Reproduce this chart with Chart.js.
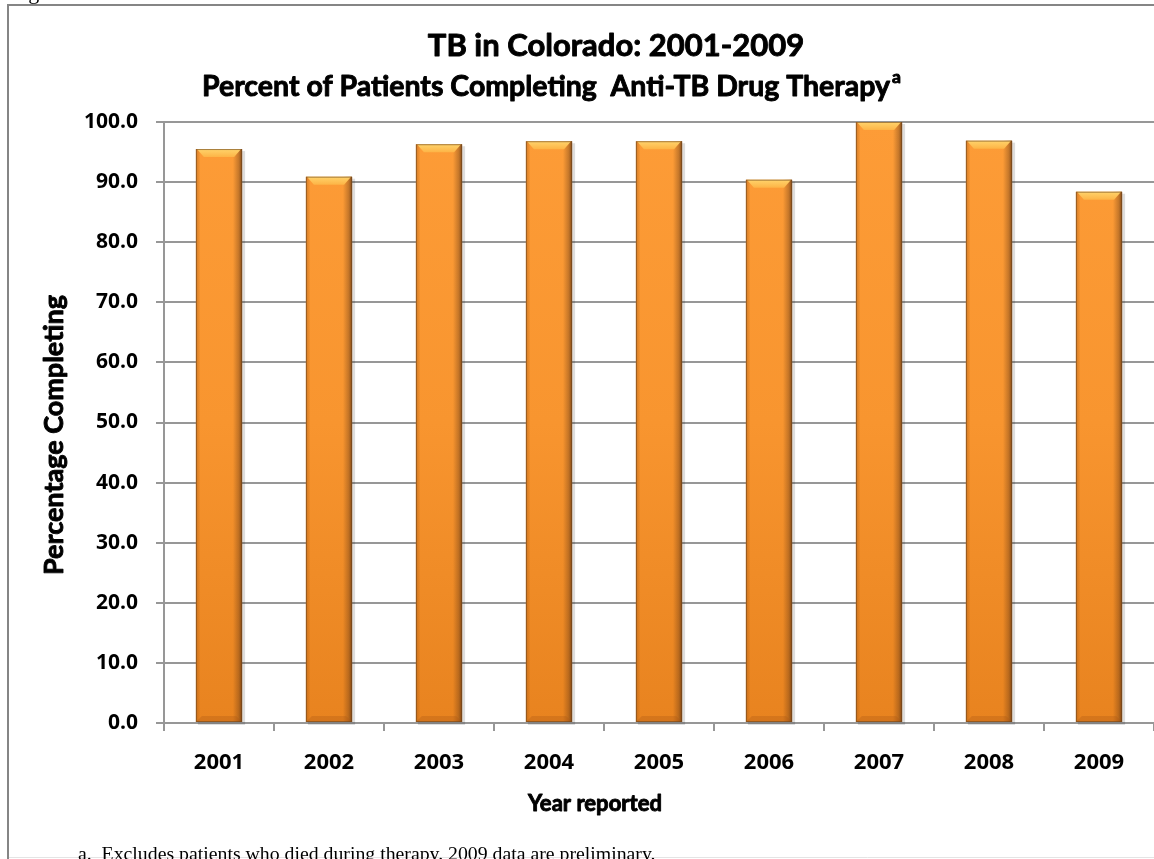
<!DOCTYPE html>
<html>
<head>
<meta charset="utf-8">
<title>TB in Colorado: 2001-2009</title>
<script src="https://cdn.jsdelivr.net/npm/chart.js@4"></script>
<style>
    html, body { margin: 0; padding: 0; background: #fff; overflow: hidden; }
    canvas { display: block; }
</style>
</head>
<body>
<canvas id="tb-chart" width="1154" height="859"></canvas>
<script>
// Data
const years = ['2001', '2002', '2003', '2004', '2005', '2006', '2007', '2008', '2009'];
const percentCompleting = [95.5, 90.9, 96.3, 96.8, 96.8, 90.4, 100.0, 96.9, 88.4];
const yTicks = [0, 10, 20, 30, 40, 50, 60, 70, 80, 90, 100];

const titleLine1 = 'TB in Colorado: 2001-2009';
const titleLine2 = 'Percent of Patients Completing  Anti-TB Drug Therapy';
const titleSup = 'a';
const yTitle = 'Percentage Completing';
const xTitle = 'Year reported';
const footnote = 'a.  Excludes patients who died during therapy. 2009 data are preliminary.';

const SANS = '"Open Sans", Lato, sans-serif';
const TITLE_SANS = 'Lato, "Open Sans", sans-serif';
const SERIF = '"Liberation Serif", "DejaVu Serif", serif';
const GRID = '#979797';

// shrink a font so a text fits the width it has in the reference
function fitFont(ctx, text, weight, size, family, maxWidth) {
    ctx.font = `${weight} ${size}px ${family}`;
    const w = ctx.measureText(text).width;
    if (w > maxWidth) {
        size = size * maxWidth / w;
        ctx.font = `${weight} ${size}px ${family}`;
    }
    return size;
}

// Lato bold is a little light next to the reference, so thicken it a bit
function heavyText(ctx, text, x, y) {
    ctx.lineWidth = 0.9;
    ctx.strokeStyle = '#000';
    ctx.lineJoin = 'round';
    ctx.strokeText(text, x, y);
    ctx.fillText(text, x, y);
}

const frameAndText = {
    id: 'frameAndText',
    beforeDraw(chart) {
        const ctx = chart.ctx;
        ctx.save();
        ctx.fillStyle = '#fff';
        ctx.fillRect(0, 0, chart.width, chart.height);

        // cut-off figure caption above the frame
        ctx.fillStyle = '#000';
        ctx.font = `22px ${SERIF}`;
        ctx.textBaseline = 'alphabetic';
        ctx.fillText('Figure', 10, -1);

        // frame
        ctx.strokeStyle = '#858585';
        ctx.lineWidth = 2;
        ctx.beginPath();
        ctx.moveTo(8, chart.height);
        ctx.lineTo(8, 5);
        ctx.lineTo(chart.width, 5);
        ctx.stroke();
        ctx.strokeStyle = '#e4e4e4';
        ctx.lineWidth = 1;
        ctx.beginPath();
        ctx.moveTo(9, 857.5);
        ctx.lineTo(chart.width, 857.5);
        ctx.stroke();
        ctx.restore();
    },
    afterDraw(chart) {
        const ctx = chart.ctx;
        ctx.save();
        ctx.fillStyle = '#000';
        ctx.textBaseline = 'alphabetic';

        // titles
        ctx.textAlign = 'center';
        fitFont(ctx, titleLine1, 'bold', 31, TITLE_SANS, 396);
        heavyText(ctx, titleLine1, 616, 56);

        ctx.textAlign = 'left';
        const s2 = fitFont(ctx, titleLine2, 'bold', 31, TITLE_SANS, 688);
        heavyText(ctx, titleLine2, 202, 96);
        const w2 = ctx.measureText(titleLine2).width;
        ctx.font = `bold ${s2 * 0.62}px ${TITLE_SANS}`;
        heavyText(ctx, titleSup, 202 + w2 + 2, 83);

        // x axis title
        ctx.textAlign = 'center';
        fitFont(ctx, xTitle, 'bold', 23, TITLE_SANS, 134);
        heavyText(ctx, xTitle, 595, 811);

        // y axis title
        ctx.save();
        ctx.translate(63, 435);
        ctx.rotate(-Math.PI / 2);
        fitFont(ctx, yTitle, 'bold', 27, TITLE_SANS, 315);
        heavyText(ctx, yTitle, 0, 0);
        ctx.restore();

        // footnote
        ctx.textAlign = 'left';
        fitFont(ctx, footnote, 'normal', 21, SERIF, 578);
        ctx.fillText(footnote, 78, 860);
        ctx.restore();
    }
};

// bevel and edge shading on each bar, placed from the bar elements
const barBevel = {
    id: 'barBevel',
    beforeDatasetsDraw(chart) {
        const ctx = chart.ctx;
        ctx.save();
        chart.getDatasetMeta(0).data.forEach(bar => {
            const { x, y, base, width } = bar.getProps(['x', 'y', 'base', 'width'], true);
            ctx.fillStyle = 'rgba(0, 0, 0, 0.13)';
            ctx.fillRect(x - width / 2 + 2, y + 2, width + 1, base - y + 1);
        });
        ctx.restore();
    },
    afterDatasetsDraw(chart) {
        const ctx = chart.ctx;
        ctx.save();
        chart.getDatasetMeta(0).data.forEach(bar => {
            const { x, y, base, width } = bar.getProps(['x', 'y', 'base', 'width'], true);
            const l = x - width / 2;
            const r = x + width / 2;

            const side = ctx.createLinearGradient(l, 0, r, 0);
            side.addColorStop(0, 'rgba(160, 85, 20, 0.45)');
            side.addColorStop(0.1, 'rgba(160, 85, 20, 0)');
            side.addColorStop(0.8, 'rgba(90, 50, 20, 0)');
            side.addColorStop(0.93, 'rgba(90, 50, 20, 0.35)');
            side.addColorStop(1, 'rgba(90, 50, 20, 0.75)');
            ctx.fillStyle = side;
            ctx.fillRect(l, y, width, base - y);

            const top = ctx.createLinearGradient(0, y, 0, y + 8);
            top.addColorStop(0, '#ffd46c');
            top.addColorStop(1, '#fdb446');
            ctx.fillStyle = top;
            ctx.beginPath();
            ctx.moveTo(l + 1, y);
            ctx.lineTo(r - 1, y);
            ctx.lineTo(r - 8, y + 8);
            ctx.lineTo(l + 8, y + 8);
            ctx.closePath();
            ctx.fill();

            ctx.fillStyle = 'rgba(170, 85, 20, 0.3)';
            ctx.beginPath();
            ctx.moveTo(l, base);
            ctx.lineTo(r, base);
            ctx.lineTo(r - 6, base - 6);
            ctx.lineTo(l + 6, base - 6);
            ctx.closePath();
            ctx.fill();

            ctx.strokeStyle = 'rgba(110, 70, 30, 0.6)';
            ctx.lineWidth = 1;
            ctx.strokeRect(l + 0.5, y + 0.5, width - 1, base - y - 1);
        });
        ctx.restore();
    }
};

function barFill(c) {
    const { ctx, chartArea } = c.chart;
    if (!chartArea) return '#f7932f';
    const g = ctx.createLinearGradient(0, chartArea.top, 0, chartArea.bottom);
    g.addColorStop(0, '#fd9c37');
    g.addColorStop(0.5, '#f8952f');
    g.addColorStop(1, '#e8831f');
    return g;
}

new Chart(document.getElementById('tb-chart'), {
    type: 'bar',
    data: {
        labels: years,
        datasets: [{
            label: 'Percent completing',
            data: percentCompleting,
            backgroundColor: barFill,
            borderWidth: 0,
            barPercentage: 0.42,
            categoryPercentage: 1.0,
        }],
    },
    options: {
        responsive: false,
        animation: false,
        layout: { padding: { left: 0, right: 0, top: 122, bottom: 0 } },
        plugins: {
            legend: { display: false },
            title: { display: false },
            tooltip: { enabled: false },
        },
        scales: {
            x: {
                afterFit: (scale) => { scale.height = 136; },
                grid: {
                    drawOnChartArea: false,
                    drawTicks: true,
                    tickLength: 8,
                    color: GRID,
                    lineWidth: 2,
                },
                border: { display: true, color: GRID, width: 2 },
                ticks: {
                    color: '#000',
                    padding: 19,
                    font: { family: SANS, size: 22, weight: 'bold' },
                },
            },
            y: {
                min: 0,
                max: 100,
                afterFit: (scale) => { scale.width = 164; },
                afterBuildTicks: (scale) => { scale.ticks = yTicks.map(v => ({ value: v })); },
                grid: {
                    color: GRID,
                    lineWidth: 2,
                    tickLength: 8,
                },
                border: { display: true, color: GRID, width: 2 },
                ticks: {
                    color: '#000',
                    padding: 18,
                    font: { family: SANS, size: 21, weight: 'bold' },
                    callback: (value) => Number(value).toFixed(1),
                },
            },
        },
    },
    plugins: [frameAndText, barBevel],
});
</script>
</body>
</html>
